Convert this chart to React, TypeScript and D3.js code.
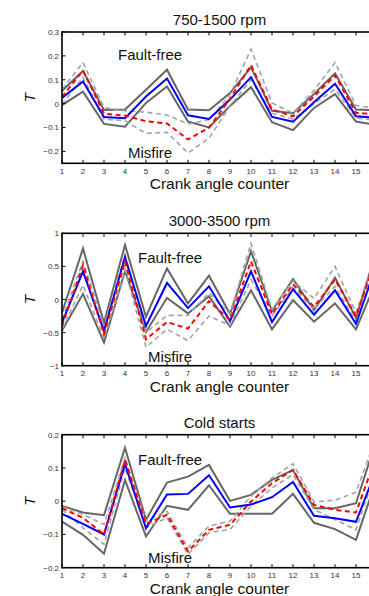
import React from "react";
import * as d3 from "d3";

const crank = [1, 2, 3, 4, 5, 6, 7, 8, 9, 10, 11, 12, 13, 14, 15, 16];
const xTickLabels = ["1", "2", "3", "4", "5", "6", "7", "8", "9", "10", "11", "12", "13", "14", "15"];

const panelTitles = ["750-1500 rpm", "3000-3500 rpm", "Cold starts"];

const p1Ticks = [0.3, 0.2, 0.1, 0, -0.1, -0.2];
const p1TickLabels = ["0.3", "0.2", "0.1", "0", "\u22120.1", "\u22120.2"];
const p1FaultMean = [0.024, 0.093, -0.056, -0.061, 0.03, 0.105, -0.049, -0.064, 0.017, 0.111, -0.056, -0.076, 0.006, 0.083, -0.053, -0.06];
const p1FaultUpper = [0.053, 0.137, -0.027, -0.025, 0.058, 0.142, -0.025, -0.028, 0.044, 0.152, -0.03, -0.04, 0.04, 0.127, -0.025, -0.028];
const p1FaultLower = [-0.006, 0.05, -0.085, -0.097, 0.003, 0.072, -0.075, -0.1, -0.01, 0.069, -0.078, -0.111, -0.018, 0.04, -0.075, -0.09];
const p1MisMean = [0.028, 0.139, -0.042, -0.05, -0.074, -0.083, -0.15, -0.101, 0.02, 0.161, -0.025, -0.053, 0.03, 0.118, -0.039, -0.045];
const p1MisUpper = [0.06, 0.172, -0.017, -0.03, -0.036, -0.048, -0.085, -0.067, 0.037, 0.228, 0.003, -0.04, 0.056, 0.172, -0.008, -0.02];
const p1MisLower = [-0.004, 0.11, -0.065, -0.072, -0.125, -0.12, -0.207, -0.145, -0.01, 0.1, -0.04, -0.065, 0.0, 0.06, -0.06, -0.07];

const p2Ticks = [1, 0.5, 0, -0.5, -1];
const p2TickLabels = ["1", "0.5", "0", "\u22120.5", "\u22121"];
const p2FaultMean = [-0.35, 0.425, -0.475, 0.64, -0.4, 0.25, -0.13, 0.2, -0.325, 0.425, -0.34, 0.155, -0.23, 0.14, -0.37, 0.55];
const p2FaultUpper = [-0.2, 0.77, -0.35, 0.825, -0.26, 0.47, -0.06, 0.36, -0.22, 0.73, -0.175, 0.31, -0.16, 0.33, -0.28, 0.77];
const p2FaultLower = [-0.47, 0.085, -0.65, 0.43, -0.49, 0.025, -0.21, 0.05, -0.41, 0.14, -0.45, -0.01, -0.335, -0.06, -0.45, 0.3];
const p2MisMean = [-0.4, 0.52, -0.525, 0.575, -0.6, -0.34, -0.44, -0.025, -0.31, 0.575, -0.225, 0.23, -0.11, 0.3, -0.25, 0.65];
const p2MisUpper = [-0.3, 0.58, -0.4, 0.68, -0.5, -0.24, -0.24, 0.1, -0.22, 0.85, -0.15, 0.28, 0.015, 0.5, -0.2, 0.7];
const p2MisLower = [-0.45, 0.22, -0.6, 0.45, -0.72, -0.45, -0.62, -0.25, -0.39, 0.3, -0.25, 0.18, -0.15, 0.2, -0.33, 0.5];

const p3Ticks = [0.2, 0.1, 0, -0.1, -0.2];
const p3TickLabels = ["0.2", "0.1", "0", "\u22120.1", "\u22120.2"];
const p3FaultMean = [-0.038, -0.068, -0.1, 0.112, -0.081, 0.02, 0.022, 0.078, -0.019, -0.01, 0.012, 0.058, -0.044, -0.051, -0.062, 0.1];
const p3FaultUpper = [-0.014, -0.034, -0.042, 0.161, -0.056, 0.056, 0.074, 0.109, 0.001, 0.019, 0.064, 0.094, -0.021, -0.021, -0.006, 0.19];
const p3FaultLower = [-0.061, -0.101, -0.158, 0.064, -0.106, -0.014, -0.026, 0.048, -0.038, -0.038, -0.038, 0.022, -0.065, -0.084, -0.116, 0.07];
const p3MisMean = [-0.021, -0.05, -0.1, 0.124, -0.068, -0.041, -0.151, -0.086, -0.071, -0.001, 0.054, 0.094, -0.011, -0.026, -0.034, 0.14];
const p3MisUpper = [-0.016, -0.04, -0.07, 0.13, -0.06, -0.03, -0.14, -0.075, -0.06, 0.015, 0.07, 0.113, -0.002, 0.003, 0.027, 0.2];
const p3MisLower = [-0.025, -0.08, -0.13, 0.1, -0.08, -0.05, -0.16, -0.095, -0.085, -0.015, 0.04, 0.08, -0.025, -0.055, -0.086, 0.1];

const FONT = "'Liberation Sans', Arial, sans-serif";

type PanelProps = {
  id: string;
  title: string;
  top: number;
  bottom: number;
  domain: [number, number];
  ticks: number[];
  tickLabels: string[];
  fm: number[];
  fu: number[];
  fl: number[];
  mm: number[];
  mu: number[];
  ml: number[];
  ffY: number;
  mfY: number;
};

function Panel(p: PanelProps) {
  const x = d3.scaleLinear().domain([1, 16]).range([62, 377]);
  const y = d3.scaleLinear().domain(p.domain).range([p.bottom, p.top]);
  const line = (vals: number[]) =>
    d3.line<number>().x((_, i) => x(crank[i])).y((v) => y(v))(vals) || "";
  const cx = (x.range()[0] + x.range()[1]) / 2;
  const tl = 3.5;
  return (
    <g>
      <defs>
        <clipPath id={p.id}>
          <rect x={x(1)} y={p.top} width={x(16) - x(1)} height={p.bottom - p.top} />
        </clipPath>
      </defs>
      <text x={cx} y={p.top - 7} textAnchor="middle" fontFamily={FONT} fontSize={15} fill="#111">
        {p.title}
      </text>
      <g clipPath={`url(#${p.id})`} fill="none" strokeLinejoin="miter">
        <path d={line(p.fu)} stroke="#666" strokeWidth={2} />
        <path d={line(p.fl)} stroke="#666" strokeWidth={2} />
        <path d={line(p.mu)} stroke="#a3a3a3" strokeWidth={1.6} strokeDasharray="5,3.5" />
        <path d={line(p.ml)} stroke="#a3a3a3" strokeWidth={1.6} strokeDasharray="5,3.5" />
        <path d={line(p.fm)} stroke="#0000ff" strokeWidth={2} />
        <path d={line(p.mm)} stroke="#ff0000" strokeWidth={2} strokeDasharray="5,3.5" />
      </g>
      <rect x={x(1)} y={p.top} width={x(16) - x(1)} height={p.bottom - p.top} fill="none" stroke="#000" strokeWidth={1.6} />
      {crank.map((c, i) => (
        <g key={"xt" + i}>
          <line x1={x(c)} x2={x(c)} y1={p.bottom} y2={p.bottom - tl} stroke="#000" strokeWidth={1} />
          <line x1={x(c)} x2={x(c)} y1={p.top} y2={p.top + tl} stroke="#000" strokeWidth={1} />
          {xTickLabels[i] !== undefined && (
            <text x={x(c)} y={p.bottom + 10.5} textAnchor="middle" fontFamily={FONT} fontSize={8} fill="#333">
              {xTickLabels[i]}
            </text>
          )}
        </g>
      ))}
      {p.ticks.map((t, i) => (
        <g key={"yt" + i}>
          <line x1={x(1)} x2={x(1) + tl} y1={y(t)} y2={y(t)} stroke="#000" strokeWidth={1} />
          <line x1={x(16)} x2={x(16) - tl} y1={y(t)} y2={y(t)} stroke="#000" strokeWidth={1} />
          <text x={x(1) - 3} y={y(t) + 3} textAnchor="end" fontFamily={FONT} fontSize={8} fill="#333">
            {p.tickLabels[i]}
          </text>
        </g>
      ))}
      <text x={cx} y={p.bottom + 26} textAnchor="middle" fontFamily={FONT} fontSize={15.5} fill="#111">
        Crank angle counter
      </text>
      <text
        transform={`translate(35,${(p.top + p.bottom) / 2}) rotate(-90)`}
        textAnchor="middle"
        fontFamily={FONT}
        fontStyle="italic"
        fontSize={15}
        fill="#111"
      >
        T
      </text>
      <text x={118 + (p.id === "c1" ? 0 : 20)} y={p.ffY} fontFamily={FONT} fontSize={15} fill="#111">
        Fault-free
      </text>
      <text x={p.id === "c1" ? 128 : 148} y={p.mfY} fontFamily={FONT} fontSize={15} fill="#111">
        Misfire
      </text>
    </g>
  );
}

export default function App() {
  return (
    <svg width={369} height={596} style={{ position: "absolute", left: 0, top: 0, background: "#fff" }}>
      <rect width={369} height={596} fill="#fff" />
      <Panel id="c1" title={panelTitles[0]} top={32} bottom={163.3} domain={[-0.25, 0.3]} ticks={p1Ticks} tickLabels={p1TickLabels}
        fm={p1FaultMean} fu={p1FaultUpper} fl={p1FaultLower} mm={p1MisMean} mu={p1MisUpper} ml={p1MisLower} ffY={60} mfY={158} />
      <Panel id="c2" title={panelTitles[1]} top={233.3} bottom={365.7} domain={[-1, 1]} ticks={p2Ticks} tickLabels={p2TickLabels}
        fm={p2FaultMean} fu={p2FaultUpper} fl={p2FaultLower} mm={p2MisMean} mu={p2MisUpper} ml={p2MisLower} ffY={263} mfY={362} />
      <Panel id="c3" title={panelTitles[2]} top={434.7} bottom={567.7} domain={[-0.2, 0.2]} ticks={p3Ticks} tickLabels={p3TickLabels}
        fm={p3FaultMean} fu={p3FaultUpper} fl={p3FaultLower} mm={p3MisMean} mu={p3MisUpper} ml={p3MisLower} ffY={465} mfY={563} />
    </svg>
  );
}
